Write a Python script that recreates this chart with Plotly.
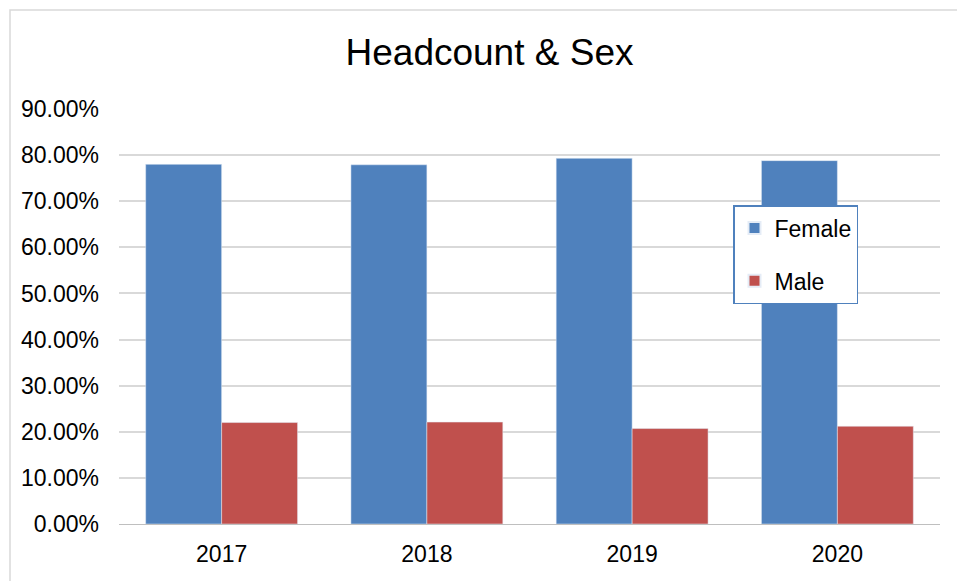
import plotly.graph_objects as go

years = ["2017", "2018", "2019", "2020"]
female = [0.780, 0.779, 0.793, 0.788]
male = [0.220, 0.221, 0.207, 0.212]
y_ticks = [0, 0.1, 0.2, 0.3, 0.4, 0.5, 0.6, 0.7, 0.8, 0.9]

FONT = "Liberation Sans, Arial, sans-serif"

fig = go.Figure()
fig.add_trace(go.Bar(name="Female", x=years, y=female, marker_color="#4F81BD",
                     legendgroup="f"))
fig.add_trace(go.Bar(name="Male", x=years, y=male, marker_color="#C0504D",
                     legendgroup="m"))

W, H = 957, 581
L, R, T, B = 119, 17, 109, 57
pw = W - L - R
ph = H - T - B

def px_x(x):
    return (x - L) / pw

def px_y(y):
    return (H - B - y) / ph

fig.update_layout(
    width=W, height=H,
    margin=dict(l=L, r=R, t=T, b=B, pad=0),
    paper_bgcolor="white", plot_bgcolor="white",
    font=dict(family=FONT, size=23, color="#000000"),
    title=dict(text="Headcount & Sex", x=489.5 / W, xanchor="center",
               y=1 - 52 / H, yanchor="middle",
               font=dict(family=FONT, size=37, color="#000000")),
    barmode="group", bargap=0.26, bargroupgap=0,
    showlegend=True,
    legend=dict(x=px_x(733), y=px_y(205), xanchor="left", yanchor="top",
                bordercolor="#4F81BD", borderwidth=1.5, bgcolor="white",
                font=dict(family=FONT, size=23, color="#000000"),
                tracegroupgap=20, itemsizing="constant"),
    xaxis=dict(showgrid=False, showline=True, linecolor="#BFBFBF", linewidth=1,
               ticks="", tickfont=dict(size=23), ticklabelstandoff=9),
    yaxis=dict(range=[0, 0.9], tickvals=y_ticks, tickformat=".2%",
               showgrid=True, gridcolor="#D9D9D9", gridwidth=1.5,
               zeroline=False, showline=False, ticks="",
               tickfont=dict(size=23), ticklabelstandoff=19),
    shapes=[dict(type="rect", xref="paper", yref="paper",
                 x0=px_x(10), x1=px_x(1000), y0=px_y(700), y1=px_y(10),
                 line=dict(color="#D9D9D9", width=1.5), fillcolor="rgba(0,0,0,0)",
                 layer="below")],
)

fig.write_html("out.html", config={"displayModeBar": False})

with open("out.html", "r", encoding="utf-8") as f:
    html = f.read()
html = html.replace("<body>", '<body style="margin:0;padding:0;overflow:hidden">', 1)
with open("out.html", "w", encoding="utf-8") as f:
    f.write(html)
